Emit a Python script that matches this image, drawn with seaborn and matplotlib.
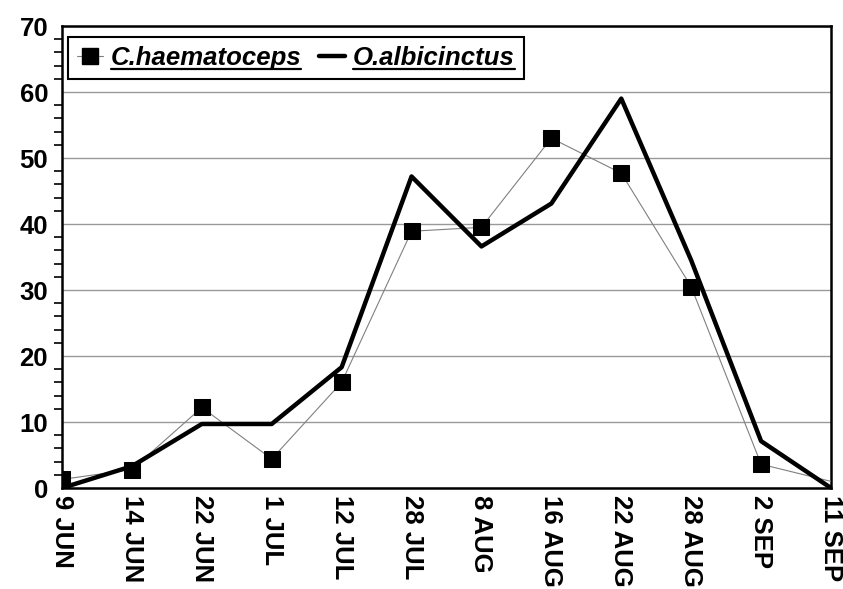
import numpy as np
import matplotlib
matplotlib.use("Agg")
import matplotlib.pyplot as plt
import pandas as pd
import seaborn as sns
from matplotlib.lines import Line2D
from matplotlib.ticker import MultipleLocator

# data
dates = ["9 JUN", "14 JUN", "22 JUN", "1 JUL", "12 JUL", "28 JUL",
         "8 AUG", "16 AUG", "22 AUG", "28 AUG", "2 SEP", "11 SEP"]
c_haematoceps = [1.3, 2.8, 12.2, 4.4, 16.0, 38.9, 39.5, 53.0, 47.7, 30.5, 3.6, 1.0]
o_albicinctus = [0.0, 3.3, 9.7, 9.7, 18.3, 47.2, 36.6, 43.1, 59.0, 34.5, 7.1, 0.0]

df = pd.DataFrame({"date": dates, "C": c_haematoceps, "O": o_albicinctus})

sns.set_style("white")
plt.rcParams["font.family"] = ["Liberation Sans", "DejaVu Sans"]
plt.rcParams["font.weight"] = "bold"
plt.rcParams["text.color"] = "black"
plt.rcParams["xtick.color"] = "black"
plt.rcParams["ytick.color"] = "black"

fig = plt.figure(figsize=(8.43, 5.89), dpi=100)
ax = fig.add_axes([62 / 843, 1 - 488 / 589, 769 / 843, 462 / 589])

sns.lineplot(data=df, x="date", y="C", ax=ax, sort=False, color="#808080",
             linewidth=0.8, marker="s", markersize=11, markerfacecolor="black",
             markeredgecolor="black", markevery=list(range(11)), zorder=3)
sns.lineplot(data=df, x="date", y="O", ax=ax, sort=False, color="black",
             linewidth=3.2, zorder=4)

ax.set_xlim(0, len(dates) - 1)
ax.set_ylim(0, 70)
ax.set_xlabel("")
ax.set_ylabel("")
ax.set_yticks(range(0, 71, 10))
ax.yaxis.set_minor_locator(MultipleLocator(2))
ax.grid(axis="y", which="major", color="#999999", linewidth=1)
ax.set_axisbelow(True)

for s in ax.spines.values():
    s.set_color("black")
    s.set_linewidth(1.8)

ax.tick_params(axis="y", which="major", length=0, labelsize=18.5, pad=10,
               labelcolor="black")
ax.tick_params(axis="y", which="minor", left=True, length=6, width=1.2, color="black")
ax.tick_params(axis="x", length=0, labelsize=18.5, pad=5, labelcolor="black")
ax.set_xticks(range(len(dates)))
ax.set_xticklabels(dates, rotation=270, ha="center", va="top", fontweight="bold")
for t in ax.get_yticklabels():
    t.set_fontweight("bold")

handles = [
    Line2D([], [], color="#808080", linewidth=0.8, marker="s", markersize=11,
           markerfacecolor="black", markeredgecolor="black"),
    Line2D([], [], color="black", linewidth=3.2),
]
leg = ax.legend(handles, ["C.haematoceps", "O.albicinctus"], loc="upper left",
                bbox_to_anchor=(0.008, 0.977), borderaxespad=0, ncol=2,
                frameon=True, fancybox=False, framealpha=1, edgecolor="black",
                handlelength=1.0, handletextpad=0.3, columnspacing=0.7,
                borderpad=0.35,
                prop={"size": 18.5, "weight": "bold", "style": "italic"})
leg.get_frame().set_linewidth(1.5)

# underline legend texts
fig.canvas.draw()
inv = fig.transFigure.inverted()
for t in leg.get_texts():
    bb = t.get_window_extent()
    (x0, y0), (x1, _) = inv.transform([(bb.x0, bb.y0 + 1), (bb.x1, bb.y0 + 1)])
    fig.add_artist(Line2D([x0, x1], [y0, y0], color="black", linewidth=1.6,
                          transform=fig.transFigure, zorder=10))

fig.savefig("out.png", dpi=100)
